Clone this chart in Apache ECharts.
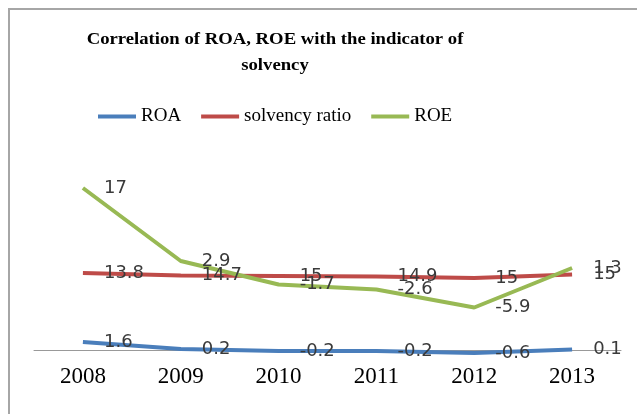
<!DOCTYPE html>
<html><head><meta charset="utf-8">
<script src="https://cdn.jsdelivr.net/npm/echarts@6/dist/echarts.min.js"></script>
<style>html,body{margin:0;padding:0;background:#fff}#c{width:637px;height:414px}</style>
</head><body><div id="c"></div>
<script>
const categories = ['2008','2009','2010','2011','2012','2013'];
const roa = [1.6, 0.2, -0.2, -0.2, -0.6, 0.1];
const solvency = [13.8, 14.7, 15, 14.9, 15, 15];
const roe = [17, 2.9, -1.7, -2.6, -5.9, 1.3];
const titleLines = ['Correlation of ROA, ROE with the indicator of', 'solvency'];

const chart = echarts.init(document.getElementById('c'));
const lbl = {show:true, position:'right', distance:21, color:'#3a3a3a', fontFamily:'DejaVu Sans', fontSize:18};
function mk(name, data, color){
  return {name, type:'line', data, stack:'total', stackStrategy:'all', symbol:'circle', symbolSize:0.1,
    showSymbol:true, clip:false, itemStyle:{color}, lineStyle:{color, width:4}, label:lbl, emphasis:{disabled:true}, z:2};
}
chart.setOption({
  animation:false,
  graphic:[
    {type:'rect', shape:{x:9,y:9,width:800,height:600}, style:{fill:'none', stroke:'#a6a6a6', lineWidth:2}, silent:true},
    {type:'text', x:275, y:40, scaleX:1.1, style:{text:titleLines[0], font:'bold 17px "Liberation Serif"', fill:'#000', textAlign:'center', textVerticalAlign:'middle'}},
    {type:'text', x:275, y:66, scaleX:1.1, style:{text:titleLines[1], font:'bold 17px "Liberation Serif"', fill:'#000', textAlign:'center', textVerticalAlign:'middle'}}
  ],
  legend:{left:93, top:102, icon:'rect', itemWidth:38, itemHeight:4, itemGap:20,
    textStyle:{fontFamily:'Liberation Serif', fontSize:19, color:'#000'}},
  grid:{left:34, right:16, top:175, height:175},
  xAxis:{type:'category', data:categories, boundaryGap:true,
    axisLine:{lineStyle:{color:'#999', width:1}}, axisTick:{show:false},
    axisLabel:{fontFamily:'Liberation Serif', fontSize:23, color:'#000', margin:15}},
  yAxis:{type:'value', min:0, max:35, show:false, splitLine:{show:false}},
  series:[mk('ROA', roa, '#4a7ebb'), mk('solvency ratio', solvency, '#be4b48'), mk('ROE', roe, '#98b954')]
});
</script></body></html>
